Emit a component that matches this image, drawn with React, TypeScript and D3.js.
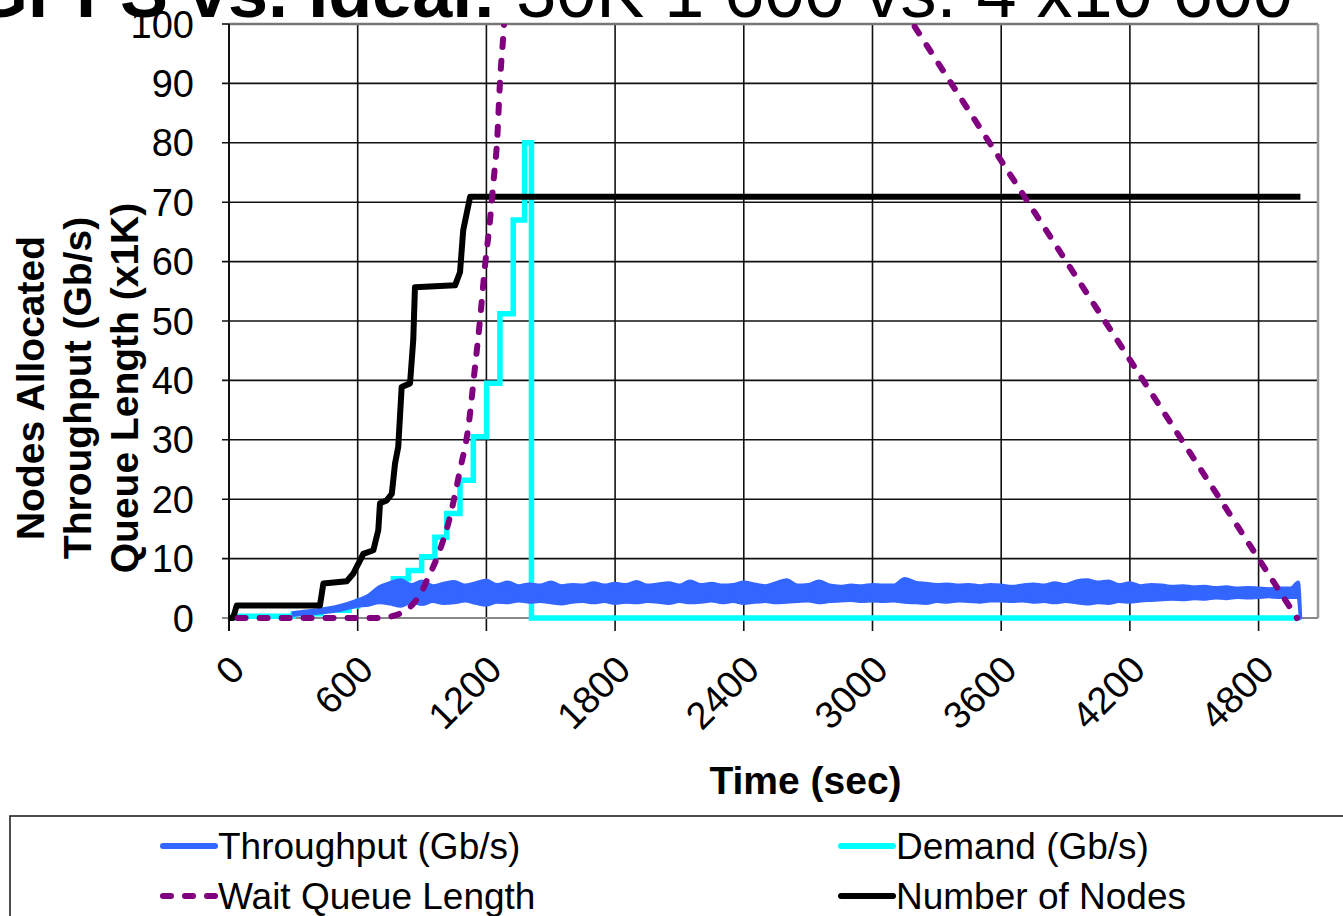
import React, { useRef, useEffect } from 'react';
import { select, scaleLinear, line, area, range, curveStepAfter, curveMonotoneX, curveLinear } from 'd3';

const W = 1343;
const H = 916;
const plot = { left: 229, right: 1318, top: 24, bottom: 618 };
const font = 'Liberation Sans, Arial, Helvetica, sans-serif';

const xTicks = [0, 600, 1200, 1800, 2400, 3000, 3600, 4200, 4800];
const yTicks = [0, 10, 20, 30, 40, 50, 60, 70, 80, 90, 100];

// Demand (Gb/s), step series
const demandTime = [0, 20, 300, 430, 560, 600, 670, 720, 766, 836, 898, 960, 1015, 1077, 1139, 1201, 1263, 1325, 1378, 1410, 4995];
const demandValue = [0, 0.3, 0.7, 1.3, 2.0, 2.8, 3.6, 4.8, 6.6, 8.0, 10.3, 13.6, 17.6, 23.2, 30.5, 39.5, 51.2, 67.0, 80.0, 0, 0];

// Number of nodes
const nodesTime = [0, 19, 36, 424, 440, 549, 580, 611, 626, 673, 696, 704, 735, 759, 774, 789, 805, 844, 859, 867, 1054, 1077, 1092, 1108, 1124, 4995];
const nodesValue = [0, 0, 2.1, 2.1, 5.8, 6.2, 7.5, 9.7, 10.8, 11.4, 14.8, 19.3, 19.8, 20.9, 26, 28.8, 38.9, 39.5, 46.8, 55.7, 56, 58.2, 65.3, 68.1, 70.9, 70.9];

// Wait queue length (x1K)
const queueTime = [40, 700, 760, 800, 859, 898, 922, 968, 1030, 1077, 1116, 1147, 1170, 1193, 1217, 1232, 1250, 1263, 1282, 1310, 1340, 1375, 1410, 3189, 4979];
const queueValue = [0, 0, 0.3, 0.8, 2.4, 4.4, 6.3, 10, 17, 24.9, 32.2, 42.3, 50.1, 59.1, 67, 73.1, 80.4, 90, 99.8, 120, 145, 175, 200, 100, 0];

// Throughput (Gb/s): noisy signal, kept as upper / lower envelope
const throughputTime = [300, 400, 500, 600, ...range(650, 5000, 50), 4985, 4995];
const throughputHigh = [
  0.9, 1.3, 1.9, 3.0,
  3.8, 5.2, 5.9, 6.4, 5.6, 6.2, 5.4, 5.8, 6.1, 5.5, 5.9, 6.3, 5.6, 6.0, 5.4, 5.7, 5.5, 6.0, 5.4, 5.6,
  5.5, 5.9, 5.5, 5.8, 5.6, 6.1, 5.5, 5.7, 5.9, 5.5, 6.2, 5.6, 5.8, 5.5, 5.6, 6.0, 5.7, 5.4, 5.9, 6.4,
  5.5, 5.6, 6.2, 5.5, 5.3, 5.5, 5.4, 5.6, 5.5, 5.5, 6.6, 6.0, 5.8, 5.6, 5.7, 5.5, 5.6, 5.4, 5.6, 5.5,
  5.3, 5.5, 5.7, 5.5, 5.9, 5.6, 6.2, 6.4, 6.0, 6.2, 5.6, 5.9, 5.4, 5.6, 5.5, 5.3, 5.4, 5.2, 5.3, 5.1,
  5.2, 5.0, 5.1, 5.0, 4.9, 5.0, 5.0,
  6.0, 0.3,
];
const throughputLow = [
  0.5, 0.8, 1.2, 2.0,
  2.2, 2.6, 2.4, 2.0, 2.7, 2.3, 2.8, 2.5, 2.6, 2.9, 2.5, 2.2, 2.7, 2.6, 2.9, 2.7, 2.8, 2.6, 2.4, 2.7,
  2.8, 2.6, 2.8, 2.5, 2.7, 2.6, 2.8, 2.7, 2.5, 2.8, 2.6, 2.7, 2.9, 2.6, 2.8, 2.5, 2.7, 2.8, 2.6, 2.7,
  2.8, 2.9, 2.6, 2.8, 2.9, 3.0, 2.8, 2.9, 2.8, 2.9, 2.7, 2.6, 2.5, 2.8, 2.7, 2.9, 2.8, 2.7, 2.9, 2.9,
  2.8, 2.9, 2.7, 2.8, 2.6, 2.8, 2.6, 2.4, 2.6, 2.5, 2.8, 2.7, 2.9, 3.0, 3.1, 3.2, 3.1, 3.3, 3.2, 3.4,
  3.3, 3.5, 3.4, 3.5, 3.6, 3.5, 3.5,
  3.5, 0,
];

const legendItems = [
  { name: 'Throughput (Gb/s)', color: '#3366FF', dash: null, col: 0, row: 0 },
  { name: 'Demand (Gb/s)', color: '#00FFFF', dash: null, col: 1, row: 0 },
  { name: 'Wait Queue Length', color: '#800080', dash: '8 14', col: 0, row: 1 },
  { name: 'Number of Nodes', color: '#000000', dash: null, col: 1, row: 1 },
];

const App: React.FC = () => {
  const svgRef = useRef<SVGSVGElement>(null);

  useEffect(() => {
    const svg = select(svgRef.current as any);
    svg.selectAll('*').remove();

    const x = scaleLinear().domain([0, 5077]).range([plot.left, plot.right]);
    const y = scaleLinear().domain([0, 100]).range([plot.bottom, plot.top]);

    svg.append('rect').attr('width', W).attr('height', H).attr('fill', '#fff');

    // title, cut off at the top of the picture
    const title = svg.append('text').attr('x', -28).attr('y', 17).attr('font-family', font).attr('font-size', 72);
    title.append('tspan').attr('font-weight', 'bold').text('GPFS vs. Ideal: ');
    title.append('tspan').text('30K 1 600 vs. 4 x10 600');

    // grid
    svg.append('g')
      .selectAll('line')
      .data(yTicks.filter(d => d > 0 && d < 100))
      .join('line')
      .attr('x1', plot.left - 7)
      .attr('x2', plot.right)
      .attr('y1', d => y(d))
      .attr('y2', d => y(d))
      .attr('stroke', '#111')
      .attr('stroke-width', 1.6);

    svg.append('g')
      .selectAll('line')
      .data(xTicks.filter(d => d > 0))
      .join('line')
      .attr('x1', d => x(d))
      .attr('x2', d => x(d))
      .attr('y1', plot.top)
      .attr('y2', plot.bottom + 13)
      .attr('stroke', '#111')
      .attr('stroke-width', 1.6);

    // borders
    svg.append('line').attr('x1', plot.left).attr('x2', plot.right).attr('y1', plot.top).attr('y2', plot.top)
      .attr('stroke', '#777').attr('stroke-width', 2.5);
    svg.append('line').attr('x1', plot.right).attr('x2', plot.right).attr('y1', plot.top).attr('y2', plot.bottom)
      .attr('stroke', '#999').attr('stroke-width', 2.5);
    svg.append('line').attr('x1', plot.left - 7).attr('x2', plot.left).attr('y1', plot.top).attr('y2', plot.top)
      .attr('stroke', '#111').attr('stroke-width', 1.6);
    svg.append('line').attr('x1', plot.left - 7).attr('x2', plot.right).attr('y1', plot.bottom).attr('y2', plot.bottom)
      .attr('stroke', '#888').attr('stroke-width', 2);
    svg.append('line').attr('x1', plot.left).attr('x2', plot.left).attr('y1', plot.top).attr('y2', plot.bottom + 13)
      .attr('stroke', '#111').attr('stroke-width', 2);

    // y tick labels
    svg.append('g')
      .selectAll('text')
      .data(yTicks)
      .join('text')
      .attr('x', plot.left - 35)
      .attr('y', d => y(d))
      .attr('dy', '0.36em')
      .attr('text-anchor', 'end')
      .attr('font-family', font)
      .attr('font-size', 38)
      .text(d => d);

    // x tick labels, rotated
    svg.append('g')
      .selectAll('text')
      .data(xTicks)
      .join('text')
      .attr('transform', d => `translate(${x(d) + 8},${plot.bottom + 44}) rotate(-45)`)
      .attr('dy', '0.36em')
      .attr('text-anchor', 'end')
      .attr('font-family', font)
      .attr('font-size', 38)
      .text(d => d);

    // axis titles
    svg.append('text')
      .attr('x', (plot.left + plot.right) / 2 + 32)
      .attr('y', 794)
      .attr('text-anchor', 'middle')
      .attr('font-family', font)
      .attr('font-weight', 'bold')
      .attr('font-size', 39)
      .text('Time (sec)');

    const yTitle = ['Nodes Allocated', 'Throughput (Gb/s)', 'Queue Length (x1K)'];
    svg.append('g')
      .selectAll('text')
      .data(yTitle)
      .join('text')
      .attr('transform', (_, i) => `translate(${30 + i * 47},388) rotate(-90)`)
      .attr('dy', '0.36em')
      .attr('text-anchor', 'middle')
      .attr('font-family', font)
      .attr('font-weight', 'bold')
      .attr('font-size', 39)
      .text(d => d);

    // series
    svg.append('clipPath').attr('id', 'plotClip')
      .append('rect')
      .attr('x', plot.left)
      .attr('y', plot.top)
      .attr('width', plot.right - plot.left)
      .attr('height', plot.bottom - plot.top + 4);

    const g = svg.append('g').attr('clip-path', 'url(#plotClip)');

    const demandLine = line<number>()
      .x((_, i) => x(demandTime[i]))
      .y(d => y(d))
      .curve(curveStepAfter);
    g.append('path')
      .attr('d', demandLine(demandValue))
      .attr('fill', 'none')
      .attr('stroke', '#00FFFF')
      .attr('stroke-width', 5.5);

    const band = area<number>()
      .x((_, i) => x(throughputTime[i]))
      .y0((_, i) => y(throughputLow[i]))
      .y1(d => y(d))
      .curve(curveMonotoneX);
    g.append('path')
      .attr('d', band(throughputHigh))
      .attr('fill', '#3366FF')
      .attr('stroke', '#3366FF')
      .attr('stroke-width', 3.5)
      .attr('stroke-linejoin', 'round');

    const nodesLine = line<number>()
      .x((_, i) => x(nodesTime[i]))
      .y(d => y(d))
      .curve(curveLinear);
    g.append('path')
      .attr('d', nodesLine(nodesValue))
      .attr('fill', 'none')
      .attr('stroke', '#000')
      .attr('stroke-width', 6)
      .attr('stroke-linejoin', 'round');

    const queueLine = line<number>()
      .x((_, i) => x(queueTime[i]))
      .y(d => y(d))
      .curve(curveMonotoneX);
    g.append('path')
      .attr('d', queueLine(queueValue))
      .attr('fill', 'none')
      .attr('stroke', '#800080')
      .attr('stroke-width', 6)
      .attr('stroke-dasharray', '8 14')
      .attr('stroke-linecap', 'round');

    // legend
    svg.append('rect')
      .attr('x', 10)
      .attr('y', 816)
      .attr('width', W)
      .attr('height', 200)
      .attr('fill', 'none')
      .attr('stroke', '#222')
      .attr('stroke-width', 1.6);

    const leg = svg.append('g')
      .selectAll('g')
      .data(legendItems)
      .join('g')
      .attr('transform', d => `translate(${160 + d.col * 678},${846 + d.row * 50})`);
    leg.append('line')
      .attr('x1', 3)
      .attr('x2', 55)
      .attr('stroke', d => d.color)
      .attr('stroke-width', 6)
      .attr('stroke-linecap', 'round')
      .attr('stroke-dasharray', d => d.dash as any);
    leg.append('text')
      .attr('x', 58)
      .attr('dy', '0.36em')
      .attr('font-family', font)
      .attr('font-size', 37)
      .text(d => d.name);
  }, []);

  return (
    <svg
      ref={svgRef}
      width={W}
      height={H}
      style={{ position: 'absolute', left: 0, top: 0 }}
      role="img"
    ></svg>
  );
};

export default App;
